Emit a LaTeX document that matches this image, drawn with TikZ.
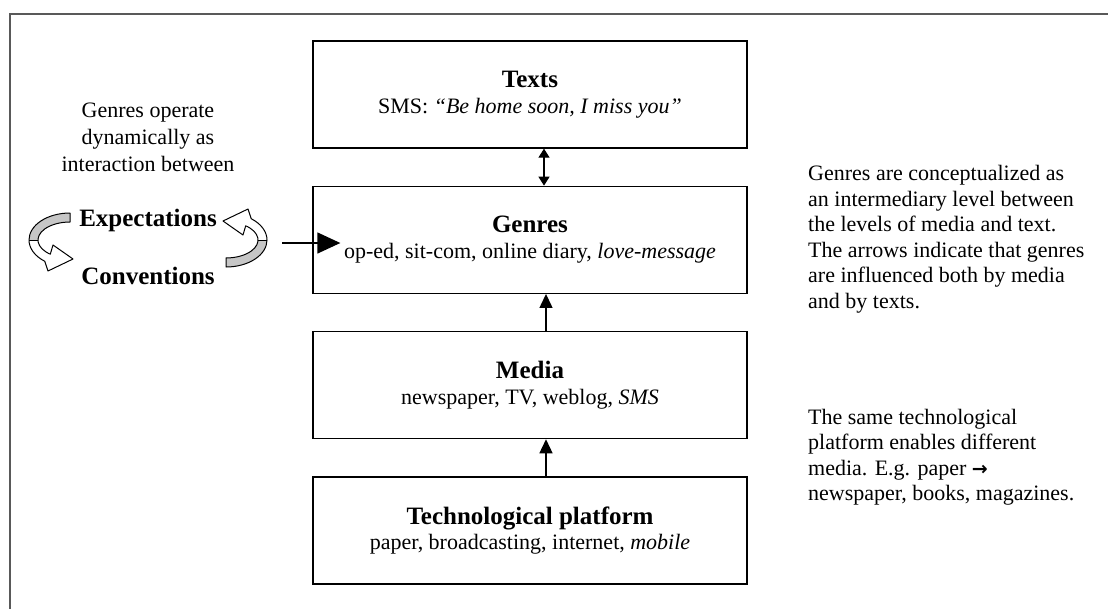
\documentclass[tikz,border=0pt]{standalone}
\usepackage{fontspec}
\setmainfont{Liberation Serif}
\newfontfamily\arrowfont{DejaVu Sans}
\usetikzlibrary{positioning,arrows.meta}

\newcommand{\bodyfont}{\fontsize{22}{25.5}\selectfont}
\newcommand{\headfont}{\fontsize{25}{28}\selectfont\bfseries}

\tikzset{
  level/.style={draw, line width=1.3pt, minimum width=434pt, minimum height=107pt,
    align=center, font=\bodyfont},
  note/.style={align=left, font=\bodyfont, inner sep=0pt},
  flow/.style={-{Triangle[length=14pt,width=13pt]}, line width=1.3pt},
  pics/turnarrow/.style={code={
    % gray inside of the band
    \fill[gray!45] (0,-27) arc[start angle=270, end angle=180, x radius=41, y radius=27]
      -- (-32,0) arc[start angle=180, end angle=270, x radius=32, y radius=18] -- cycle;
    \draw[line width=1pt, line join=round] (0,-27)
      arc[start angle=270, end angle=128, x radius=41, y radius=27]
      -- (-22,31) -- (3,19) -- (-17,5) -- (-19.7,14.2)
      arc[start angle=128, end angle=270, x radius=32, y radius=18] -- cycle;
    \draw[line width=1pt] (-41,0) -- (-32,0);
  }}
}

\begin{document}
\begin{tikzpicture}[x=1pt, y=-1pt]
\useasboundingbox (0,0) rectangle (1108,608);
\begin{scope}
\clip (0,0) rectangle (1108,608);
\draw[line width=1.6pt, black!65] (10,14) rectangle (1130,630);
\end{scope}

% the four levels
\node[level] (texts) at (530,94.5) {{\headfont Texts}\\SMS: \textit{“Be home soon, I miss you”}};
\node[level, below=37pt of texts] (genres) {{\headfont Genres}\\op-ed, sit-com, online diary, \textit{love-message}};
\node[level, below=37pt of genres] (media) {{\headfont Media}\\newspaper, TV, weblog, \textit{SMS}};
\node[level, below=37pt of media] (tech) {{\headfont Technological platform}\\paper, broadcasting, internet, \textit{mobile}};

\draw[{Triangle[length=9pt,width=11pt]}-{Triangle[length=9pt,width=11pt]}, line width=1.3pt]
  ([xshift=14pt]texts.south) -- ([xshift=14pt]genres.north);
\draw[flow] ([xshift=16pt]media.north) -- ([xshift=16pt]genres.south);
\draw[flow] ([xshift=16pt]tech.north) -- ([xshift=16pt]media.south);

% left side
\node[note, align=center, font=\fontsize{22}{27}\selectfont] (dynamic) at (148,137)
  {Genres operate\\dynamically as\\interaction between};
\node[font=\headfont] (expect) at (148,220) {Expectations};
\node[font=\headfont] (conv) at (148,276) {Conventions};
\pic at (70,240) {turnarrow};
\pic[rotate=180] at (226,240) {turnarrow};
\coordinate (loopout) at (282,243);
\draw[-{Triangle[length=23pt,width=21pt]}, line width=1.3pt]
  (loopout) -- ([xshift=28pt]loopout -| genres.west);

% right side
\node[note, anchor=west] (genrenote) at (808,239)
  {Genres are conceptualized as\\an intermediary level between\\the levels of media and text.\\The arrows indicate that genres\\are influenced both by media\\and by texts.};
\node[note, anchor=west] (technote) at (808,457)
  {The same technological\\platform enables different\\media. E.g. paper {\arrowfont\bfseries\fontsize{19}{19}\selectfont →}\\newspaper, books, magazines.};
\end{tikzpicture}
\end{document}
